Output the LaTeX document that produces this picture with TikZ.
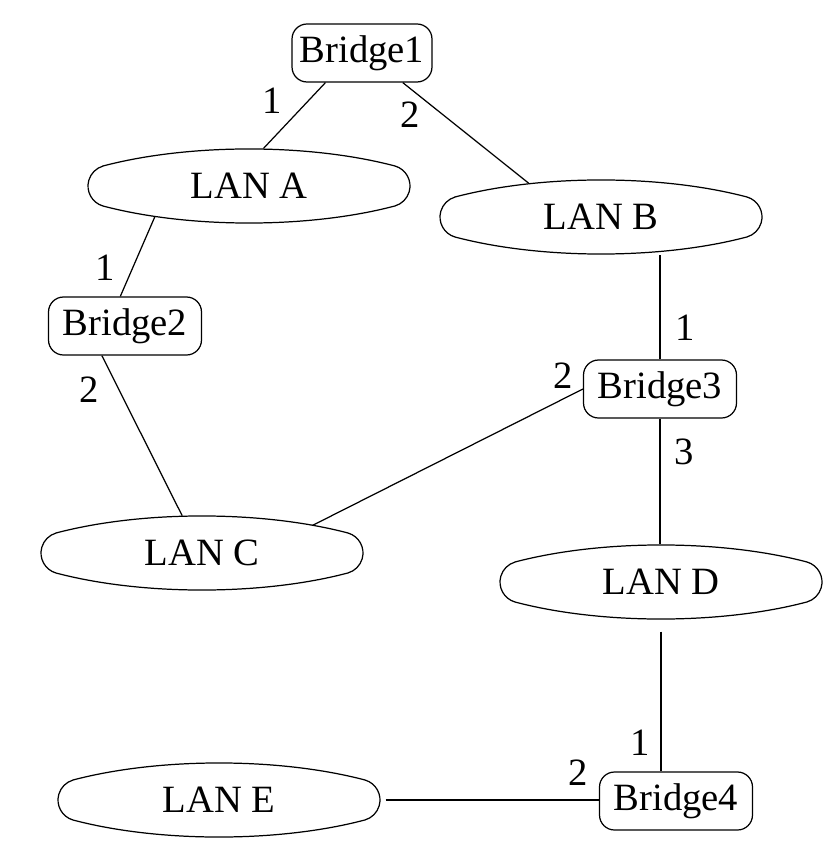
\documentclass[tikz,border=0pt]{standalone}
\usepackage{fontspec}
\setmainfont{Liberation Serif}
\usetikzlibrary{shapes.geometric,calc}
\tikzset{
  bridge/.style={draw,rectangle,rounded corners=0.3cm,minimum width=3.06cm,minimum height=1.16cm,inner xsep=0.15cm,font=\fontsize{22}{26}\selectfont},
  lan/.style={ellipse,minimum width=6.44cm,minimum height=1.48cm,inner sep=0pt,font=\fontsize{22}{26}\selectfont},
  port/.style={inner sep=0pt,font=\fontsize{22}{26}\selectfont}
}
% lens shaped outline round a LAN node
\newcommand{\lanoutline}[1]{%
  \draw[shift={(#1.center)}] (-146,20) .. controls (-60,42.7) and (60,42.7) .. (146,20)
    arc[start angle=73.8,end angle=-73.8,radius=20.8]
    .. controls (60,-42.7) and (-60,-42.7) .. (-146,-20)
    arc[start angle=253.8,end angle=106.2,radius=20.8] -- cycle;}
\begin{document}
\begin{tikzpicture}[x=0.02cm,y=0.02cm,line width=0.7pt]
        \useasboundingbox (0,0) rectangle (839,-865);
        % bridges
        \node[bridge,minimum width=2.8cm] (br1) at (362,-53) {Bridge1};
        \node[bridge] (br2) at (125,-326) {Bridge2};
        \node[bridge] (br3) at (660,-389) {Bridge3};
        \node[bridge] (br4) at (676,-801) {Bridge4};
        % LANs
        \node[lan] (lana) at (249,-186) {LAN A};
        \node[lan] (lanb) at (601,-217) {LAN B};
        \node[lan] (lanc) at (202,-553) {LAN C};
        \node[lan] (land) at (661,-582) {LAN D};
        \node[lan] (lane) at (219,-800) {LAN E};
        \foreach \l in {lana,lanb,lanc,land,lane} {\lanoutline{\l}}
        % links
        \draw (br1.-141) -- (lana.69);
        \draw (br1.-36) -- (lanb.155);
        \draw (lana.-162) -- (br2.99);
        \draw (br2.-128) -- (lanc.118);
        \draw (br3.north) -- (br3.north |- lanb.south);
        \draw (br3.west) -- (lanc.14);
        \draw (br3.south) -- (br3.south |- land.north);
        \draw[shorten <=0.24cm] (land.south) -- (land.south |- br4.north);
        \draw[shorten <=0.1cm] (lane.east) -- (lane.east -| br4.west);
        % port numbers
        \node[port] (p11) at (272,-101) {1};
        \node[port] (p12) at (410,-115) {2};
        \node[port] (p21) at (105,-268) {1};
        \node[port] (p22) at (89,-390) {2};
        \node[port] (p31) at (685,-328) {1};
        \node[port] (p32) at (563,-376) {2};
        \node[port] (p33) at (684,-452) {3};
        \node[port] (p41) at (640,-743) {1};
        \node[port] (p42) at (578,-773) {2};
    \end{tikzpicture}
\end{document}
